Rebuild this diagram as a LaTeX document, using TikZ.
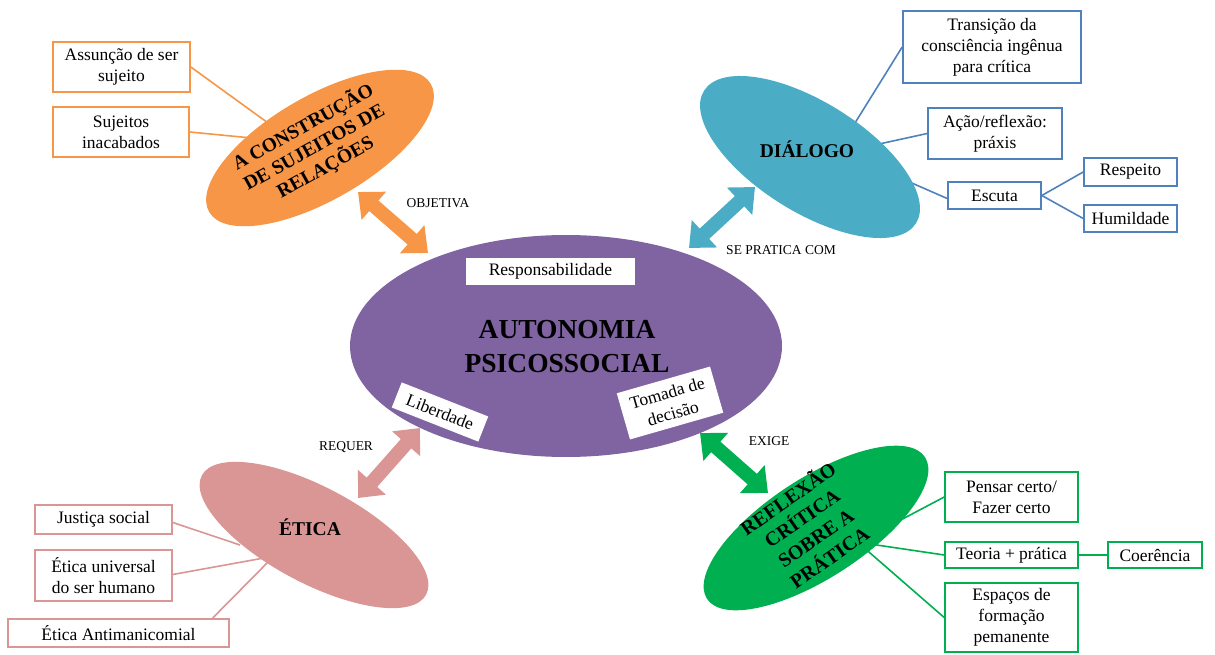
\documentclass[tikz,border=0pt]{standalone}
\usepackage{fontspec}
\setmainfont{Liberation Serif}
\usetikzlibrary{arrows.meta,shapes.geometric}
\definecolor{cOr}{HTML}{F79646}
\definecolor{cTe}{HTML}{4BACC6}
\definecolor{cBl}{HTML}{4F81BD}
\definecolor{cPk}{HTML}{D99694}
\definecolor{cGr}{HTML}{00B050}
\definecolor{cPu}{HTML}{8064A2}
\begin{document}
\begin{tikzpicture}[x=1pt,y=-1pt,
  bx/.style={draw, line width=1.6pt, fill=white, inner sep=0pt, align=center,
             font=\fontsize{17.5}{21}\selectfont},
  wbx/.style={fill=white, inner sep=0pt, align=center, font=\fontsize{17.5}{21}\selectfont},
  ell/.style={ellipse, inner sep=0pt},
  etxt/.style={align=center, inner sep=0pt, font=\bfseries\fontsize{19.5}{22}\selectfont},
  lbl/.style={inner sep=0pt, font=\fontsize{13.5}{16}\selectfont},
  big/.style={line width=14pt, {Triangle[width=36pt,length=21pt]}-{Triangle[width=36pt,length=21pt]}},
  ln/.style={line width=1.6pt},
]
\useasboundingbox (0,0) rectangle (1215,655);

% ---------- boxes ----------
\node[bx, draw=cOr, minimum width=137pt, minimum height=50pt] (assun) at (121.5,67) {Assunção de ser\\sujeito};
\node[bx, draw=cOr, minimum width=136pt, minimum height=50pt] (inac) at (121,132) {Sujeitos\\inacabados};

\node[bx, draw=cBl, minimum width=178pt, minimum height=72pt] (trans) at (992,47) {Transição da\\consciência ingênua\\para crítica};
\node[bx, draw=cBl, minimum width=134pt, minimum height=51pt] (acao) at (995,133.5) {Ação/reflexão:\\práxis};
\node[bx, draw=cBl, minimum width=93pt, minimum height=27pt] (escuta) at (994.5,195.5) {Escuta};
\node[bx, draw=cBl, minimum width=93pt, minimum height=28pt] (resp) at (1130.5,172) {Respeito};
\node[bx, draw=cBl, minimum width=93pt, minimum height=27pt] (humil) at (1130.5,218.5) {Humildade};

\node[bx, draw=cPk, minimum width=137pt, minimum height=29pt] (just) at (103.5,519.5) {Justiça social};
\node[bx, draw=cPk, minimum width=137pt, minimum height=51pt] (univ) at (103.5,575.5) {Ética universal\\do ser humano};
\node[bx, draw=cPk, minimum width=221pt, minimum height=28pt] (anti) at (118.5,633) {Ética Antimanicomial};

\node[bx, draw=cGr, minimum width=133pt, minimum height=50pt] (pensar) at (1011.5,497) {Pensar certo/\\Fazer certo};
\node[bx, draw=cGr, minimum width=133pt, minimum height=26pt] (teoria) at (1011.5,555) {Teoria + prática};
\node[bx, draw=cGr, minimum width=94pt, minimum height=26pt] (coer) at (1155,555) {Coerência};
\node[bx, draw=cGr, minimum width=133pt, minimum height=69pt] (espacos) at (1011.5,617.5) {Espaços de\\formação\\pemanente};

% ---------- line ends inside ellipses ----------
\coordinate (o1) at (275,128);
\coordinate (o2) at (262,139);
\coordinate (t1) at (850,131);
\coordinate (t2) at (870,146);
\coordinate (t3) at (898,177);
\coordinate (p1) at (240,545);
\coordinate (p2) at (264,558);
\coordinate (p3) at (272,558);
\coordinate (g1) at (895,523);
\coordinate (g2) at (870,544);
\coordinate (g3) at (862,546);

\draw[ln, cOr] (assun.east) -- (o1);
\draw[ln, cOr] (inac.east) -- (o2);
\draw[ln, cBl] (trans.west) -- (t1);
\draw[ln, cBl] (acao.west) -- (t2);
\draw[ln, cBl] ([yshift=-3pt]escuta.west) -- (t3);
\draw[ln, cBl] (escuta.east) -- (resp.west);
\draw[ln, cBl] (escuta.east) -- (humil.west);
\draw[ln, cPk] ([yshift=-3pt]just.east) -- (p1);
\draw[ln, cPk] ([yshift=1pt]univ.east) -- (p2);
\draw[ln, cPk] ([xshift=94pt]anti.north) -- (p3);
\draw[ln, cGr] (pensar.west) -- (g1);
\draw[ln, cGr] (teoria.west) -- (g2);
\draw[ln, cGr] (teoria.east) -- (coer.west);
\draw[ln, cGr] (espacos.west) -- (g3);

% ---------- ellipses ----------
\node[ell, fill=cPu, minimum width=432pt, minimum height=222pt] (auto) at (566,346) {};
\node[ell, fill=cOr, minimum width=256pt, minimum height=104pt, rotate=30] (constr) at (320,148) {};
\node[ell, fill=cTe, minimum width=250pt, minimum height=110pt, rotate=-32] (dialogo) at (810,157) {};
\node[ell, fill=cPk, minimum width=254pt, minimum height=96pt, rotate=-28] (etica) at (314,535) {};
\node[ell, fill=cGr, minimum width=260pt, minimum height=100pt, rotate=33] (reflex) at (816,528) {};

% ---------- ellipse texts ----------
\node[etxt, font=\bfseries\fontsize{27.5}{34}\selectfont] (autot) at (567,347) {AUTONOMIA\\PSICOSSOCIAL};
\node[etxt, rotate=29, font=\bfseries\fontsize{19.5}{23}\selectfont] (constrt) at (314,147) {A CONSTRUÇÃO\\DE SUJEITOS DE\\RELAÇÕES};
\node[etxt] (dialogot) at (807,149) {DIÁLOGO};
\node[etxt] (eticat) at (310,527) {ÉTICA};
\node[etxt, rotate=35, font=\bfseries\fontsize{20}{24}\selectfont] (reflext) at (808,527) {REFLEXÃO\\CRÍTICA\\SOBRE A\\PRÁTICA};

% ---------- white boxes in centre ----------
\node[wbx, minimum width=169pt, minimum height=27pt] (respons) at (550.5,271.5) {Responsabilidade};
\node[wbx, minimum width=93pt, minimum height=27pt, rotate=-21.5] (liberd) at (440,412) {Liberdade};
\node[wbx, minimum width=97pt, minimum height=48pt, rotate=16] (tomada) at (670,403) {Tomada de\\decisão};

% ---------- block arrows ----------
\coordinate (ao1) at (358,192); \coordinate (ao2) at (428,253);
\coordinate (at1) at (755,187); \coordinate (at2) at (689,248);
\coordinate (ap1) at (420,428); \coordinate (ap2) at (358,498);
\coordinate (ag1) at (700,433); \coordinate (ag2) at (768,493);
\draw[big, cOr] (ao1) -- (ao2);
\draw[big, cTe] (at1) -- (at2);
\draw[big, cPk] (ap1) -- (ap2);
\draw[big, cGr] (ag1) -- (ag2);

% ---------- labels ----------
\node[lbl] (lobj) at (438,203) {OBJETIVA};
\node[lbl] (lse) at (781,250) {SE PRATICA COM};
\node[lbl] (lreq) at (346,447) {REQUER};
\node[lbl] (lexi) at (769,441) {EXIGE};
\end{tikzpicture}
\end{document}
